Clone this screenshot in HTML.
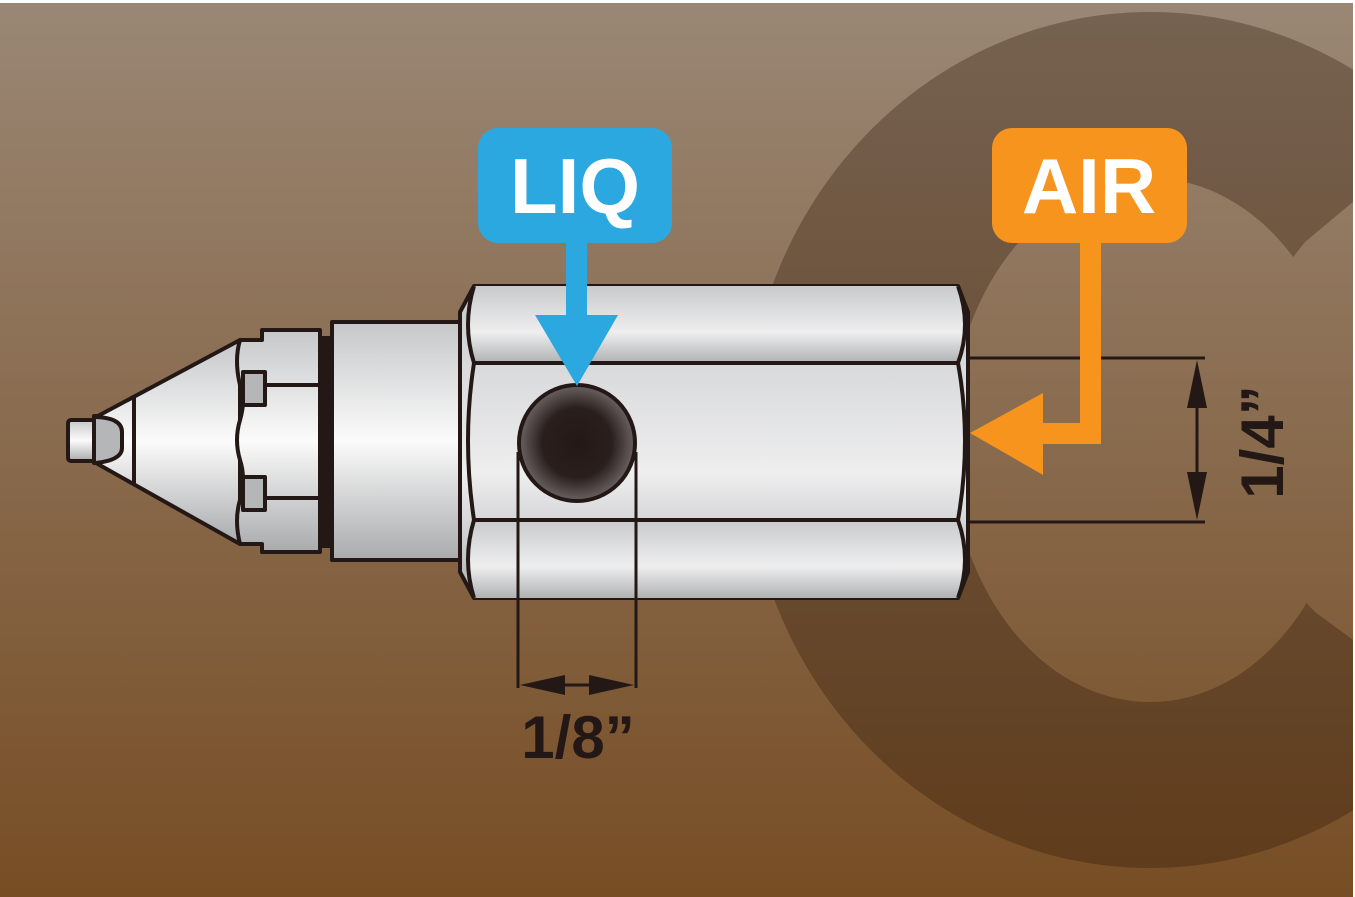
<!DOCTYPE html>
<html><head><meta charset="utf-8"><style>html,body{margin:0;padding:0;background:#fff}svg{display:block}</style></head>
<body>
<svg width="1355" height="897" viewBox="0 0 1355 897" xmlns="http://www.w3.org/2000/svg">
<defs>
<linearGradient id="bg" gradientUnits="userSpaceOnUse" x1="0" y1="0" x2="0" y2="897">
<stop offset="0" stop-color="#9a8775"/><stop offset="1" stop-color="#774d24"/></linearGradient>
<linearGradient id="m" x1="0" y1="0" x2="0" y2="1">
<stop offset="0" stop-color="#c6c7c9"/><stop offset="0.5" stop-color="#fbfbfb"/><stop offset="1" stop-color="#a9aaac"/></linearGradient>
<linearGradient id="m2" x1="0" y1="0" x2="0" y2="1">
<stop offset="0" stop-color="#c9cacc"/><stop offset="0.6" stop-color="#eeeeef"/><stop offset="1" stop-color="#b0b1b3"/></linearGradient>
<radialGradient id="hole" cx="0.5" cy="0.5" r="0.5">
<stop offset="0" stop-color="#231816"/><stop offset="0.6" stop-color="#2a1f1d"/><stop offset="1" stop-color="#6a6262"/></radialGradient>
<clipPath id="cc"><rect x="0" y="3" width="1353" height="894"/></clipPath>
</defs>
<rect x="0" y="3" width="1353" height="894" fill="url(#bg)"/>
<g clip-path="url(#cc)">
<ellipse cx="1150" cy="440" rx="405" ry="428" fill="#2a1505" opacity="0.32"/>
<ellipse cx="1150" cy="440" rx="200" ry="262" fill="url(#bg)"/>
<polygon points="1150,440 1305,242 1360,196 1360,645 1315,612" fill="url(#bg)"/>
</g>
<g stroke="#231816" stroke-width="4" stroke-linejoin="round">
<rect x="68" y="420" width="28" height="41" rx="3" fill="url(#m)"/>
<path d="M94 416 Q122 416 122 432 L122 448 Q122 463 94 463 Z" fill="#b5b6b8"/>
<path d="M96 417 L240 340 L240 544 L96 463 Q122 460 122 448 L122 432 Q122 418 96 417 Z" fill="url(#m)"/>
<line x1="134" y1="396" x2="134" y2="483"/>
<path d="M240 340 L262 340 L262 330 L320 330 L320 552 L262 552 L262 544 L240 544 Q234 520 240 500 Q246 478 240 460 Q234 440 240 420 Q246 400 240 385 Q234 360 240 340 Z" fill="url(#m)"/>
<line x1="265" y1="385" x2="320" y2="385"/>
<line x1="265" y1="498" x2="320" y2="498"/>
<rect x="243" y="372" width="22" height="33" fill="#b5b6b8"/>
<rect x="243" y="477" width="22" height="33" fill="#b5b6b8"/>
<rect x="320" y="338" width="10" height="208" fill="#231816"/>
<rect x="332" y="322" width="128" height="238" fill="url(#m)"/>
<path d="M474 286 L958 286 L968 312 L968 572 L958 598 L474 598 L460 572 L460 312 Z" fill="url(#m2)"/>
<path d="M474 286 Q462 325 474 363 L958 363 Q972 325 958 286" fill="url(#m2)"/>
<path d="M474 598 Q462 560 474 520 L958 520 Q972 560 958 598" fill="url(#m2)"/>
<path d="M474 363 Q462 440 474 520 M958 363 Q972 440 958 520" fill="none"/>
<circle cx="577" cy="443" r="58" fill="url(#hole)"/>
</g>
<g stroke="#231816" stroke-width="3" fill="#231816">
<line x1="518" y1="452" x2="518" y2="688"/>
<line x1="636" y1="452" x2="636" y2="688"/>
<line x1="540" y1="685" x2="614" y2="685"/>
<polygon points="520,685 565,675 565,695" stroke="none"/>
<polygon points="634,685 589,675 589,695" stroke="none"/>
<line x1="968" y1="358" x2="1205" y2="358"/>
<line x1="968" y1="522" x2="1205" y2="522"/>
<line x1="1197" y1="380" x2="1197" y2="500"/>
<polygon points="1197,360 1187,408 1207,408" stroke="none"/>
<polygon points="1197,520 1187,472 1207,472" stroke="none"/>
</g>
<text x="578" y="758" font-family="Liberation Sans, sans-serif" font-weight="bold" font-size="60" fill="#231816" text-anchor="middle">1/8”</text>
<text transform="translate(1283,442) rotate(-90)" font-family="Liberation Sans, sans-serif" font-weight="bold" font-size="60" fill="#231816" text-anchor="middle">1/4”</text>
<rect x="478" y="128" width="194" height="115" rx="20" fill="#2ba8e0"/>
<rect x="566" y="240" width="21" height="78" fill="#2ba8e0"/>
<polygon points="535,315 618,315 577,386" fill="#2ba8e0"/>
<text x="575" y="213" font-family="Liberation Sans, sans-serif" font-weight="bold" font-size="78" fill="#fff" text-anchor="middle">LIQ</text>
<rect x="992" y="128" width="195" height="115" rx="20" fill="#f7941e"/>
<polygon points="1080,240 1101,240 1101,444 1043,444 1043,475 970,433 1043,393 1043,423 1080,423" fill="#f7941e"/>
<text x="1089" y="213" font-family="Liberation Sans, sans-serif" font-weight="bold" font-size="78" fill="#fff" text-anchor="middle">AIR</text>
</svg>
</body></html>
